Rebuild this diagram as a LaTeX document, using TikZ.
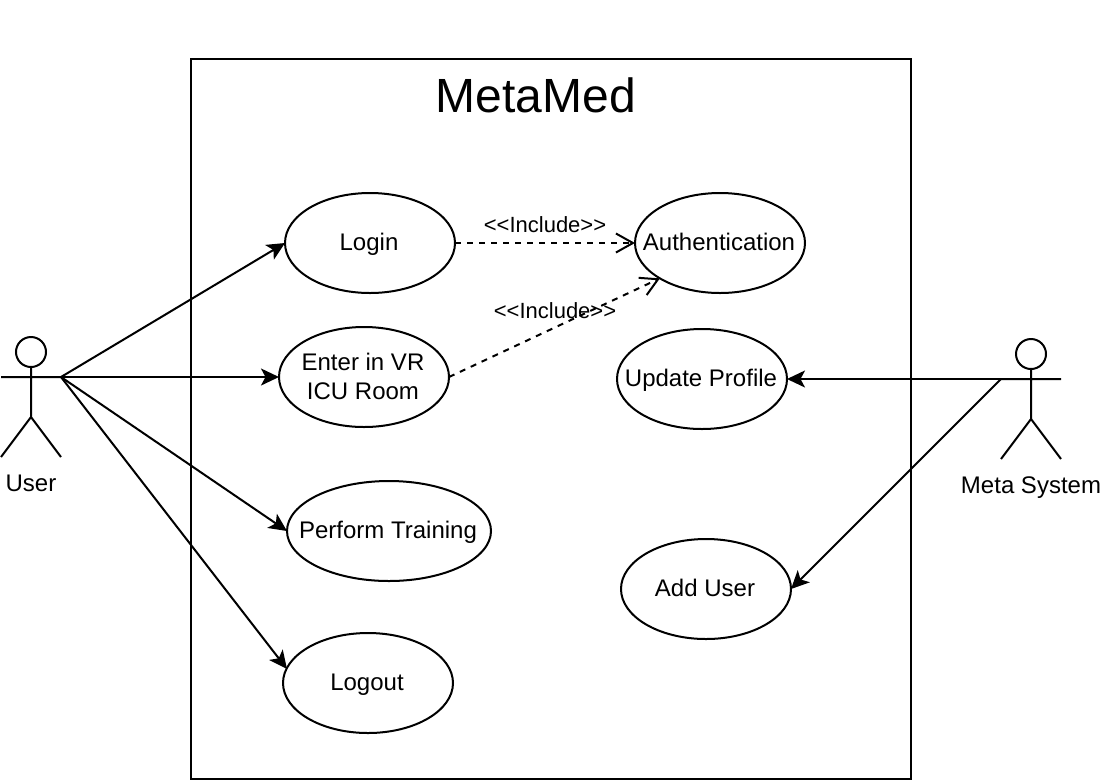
\documentclass[tikz,border=0pt]{standalone}
\usepackage{fontspec}
\setmainfont{Liberation Sans}
\usetikzlibrary{arrows.meta,shapes.geometric}
\begin{document}
\begin{tikzpicture}[x=1pt,y=-1pt,line width=2pt,
 uc/.style={draw,shape=ellipse,inner sep=0pt,outer sep=0pt,minimum width=170pt,minimum height=100pt},
 lab/.style={inner sep=0pt,anchor=base,font=\fontsize{24}{29}\selectfont,align=center},
 small/.style={inner sep=0pt,anchor=base,font=\fontsize{22}{26}\selectfont},
 solidarrow/.style={-{Stealth[length=18pt,width=17pt,inset=4.5pt]}},
 incl/.style={dash pattern=on 6pt off 6pt,-{Straight Barb[length=17pt,width=19pt,line width=2pt]}}]
\useasboundingbox (0,0) rectangle (1102,780);
\draw (191,59) rectangle (911,779);
\node[inner sep=0pt,anchor=base,font=\fontsize{48}{56}\selectfont] (title) at (536,112) {MetaMed};
\node[uc] (login) at (370,243) {};
\node[lab] (loginT) at (369,250) {Login};
\node[uc] (auth) at (720,243) {};
\node[lab] (authT) at (719,250) {Authentication};
\node[uc] (vr) at (364,377) {};
\node[lab] (vrT) at (363,399) {Enter in VR\\ICU Room};
\node[uc] (upd) at (702,379) {};
\node[lab] (updT) at (701,386) {Update Profile};
\node[uc,minimum width=204pt] (train) at (389,531) {};
\node[lab] (trainT) at (388,538) {Perform Training};
\node[uc] (add) at (706,589) {};
\node[lab] (addT) at (705,596) {Add User};
\node[uc] (logout) at (368,683) {};
\node[lab] (logoutT) at (367,690) {Logout};
\coordinate (u) at (61,377);
\coordinate (m) at (1001,379);
\coordinate (logoutIn) at (287,669);
\draw (31,352) circle (15);
\draw (31,367) -- (31,417) (1,377) -- (61,377) (1,457) -- (31,417) -- (61,457);
\node[lab] (userT) at (31,491) {User};
\draw (1031,354) circle (15);
\draw (1031,369) -- (1031,419) (1001,379) -- (1061,379) (1001,459) -- (1031,419) -- (1061,459);
\node[lab] (metaT) at (1031,493) {Meta System};
\draw[solidarrow] (u) -- (login.west);
\draw[solidarrow] (u) -- (vr.west);
\draw[solidarrow] (u) -- (train.west);
\draw[solidarrow] (u) -- (logoutIn);
\draw[solidarrow] (m) -- (upd.east);
\draw[solidarrow] (m) -- (add.east);
\draw[incl] (login.east) -- (auth.west);
\draw[incl] (vr.east) -- (auth.south west);
\node[small] (i1) at (545,232) {<{}<Include>{}>};
\node[small] (i2) at (555,318) {<{}<Include>{}>};
\end{tikzpicture}
\end{document}
